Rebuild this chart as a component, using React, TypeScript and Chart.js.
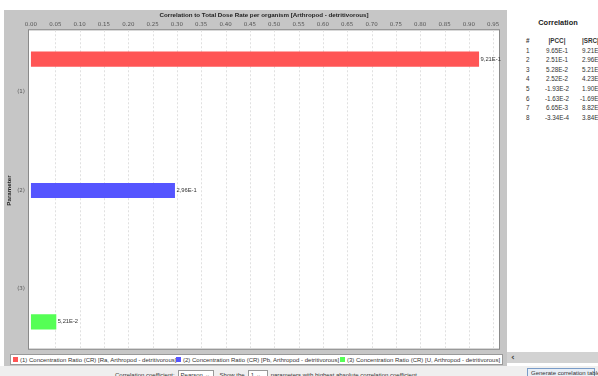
import React, { useEffect, useRef } from "react";
import { Chart, registerables } from "chart.js";

Chart.register(...registerables);

const categories = ["(1)", "(2)", "(3)"];
const seriesLabels = [
  "(1) Concentration Ratio (CR) [Ra, Arthropod - detritivorous]",
  "(2) Concentration Ratio (CR) [Pb, Arthropod - detritivorous]",
  "(3) Concentration Ratio (CR) [U, Arthropod - detritivorous]",
];
const seriesValues = [0.921, 0.296, 0.0521];
const valueLabels = ["9,21E-1", "2,96E-1", "5,21E-2"];
const seriesColors = ["#ff5555", "#5555ff", "#55ff55"];
const xTicks = [0, 0.05, 0.1, 0.15, 0.2, 0.25, 0.3, 0.35, 0.4, 0.45, 0.5, 0.55, 0.6, 0.65, 0.7, 0.75, 0.8, 0.85, 0.9, 0.95];
const chartTitle = "Correlation to Total Dose Rate per organism [Arthropod - detritivorous]";
const yTitle = "Parameter";

const tableRanks = ["1", "2", "3", "4", "5", "6", "7", "8"];
const pccValues = ["9.65E-1", "2.51E-1", "5.28E-2", "2.52E-2", "-1.93E-2", "-1.63E-2", "6.65E-3", "-3.34E-4"];
const srcValues = ["9.21E-1", "2.96E-1", "5.21E-2", "4.23E-2", "1.90E-2", "-1.69E-2", "8.82E-3", "3.84E-4"];

const plotBoxPlugin = {
  id: "plotBox",
  beforeDraw(chart: any) {
    const { ctx, chartArea } = chart;
    const top = chartArea.top - 12.5;
    const bottom = chartArea.bottom + 10.5;
    ctx.save();
    ctx.fillStyle = "#ffffff";
    ctx.fillRect(chartArea.left, top, chartArea.right - chartArea.left, bottom - top);
    ctx.strokeStyle = "#8a8a8a";
    ctx.lineWidth = 1;
    ctx.strokeRect(chartArea.left - 0.5, top - 0.5, chartArea.right - chartArea.left + 1, bottom - top + 1);
    const xs = chart.scales.x;
    ctx.strokeStyle = "#e0e0e0";
    ctx.setLineDash([2, 2]);
    xTicks.forEach((v) => {
      if (v === 0) return;
      const px = Math.round(xs.getPixelForValue(v)) + 0.5;
      ctx.beginPath();
      ctx.moveTo(px, top);
      ctx.lineTo(px, bottom);
      ctx.stroke();
    });
    ctx.restore();
  },
  afterDatasetsDraw(chart: any) {
    const { ctx } = chart;
    ctx.save();
    ctx.font = "5.8px 'Liberation Sans'";
    ctx.fillStyle = "#333";
    ctx.textBaseline = "middle";
    ctx.textAlign = "left";
    chart.data.datasets.forEach((ds: any, i: number) => {
      const meta = chart.getDatasetMeta(i);
      meta.data.forEach((el: any, j: number) => {
        if (ds.data[j] == null) return;
        ctx.fillText(valueLabels[i], el.x + 1.5, el.y);
      });
    });
    ctx.restore();
  },
};

export default function App() {
  const ref = useRef<HTMLCanvasElement>(null);
  useEffect(() => {
    document.body.style.margin = "0";
    const chart = new Chart(ref.current as HTMLCanvasElement, {
      type: "bar",
      data: {
        labels: categories,
        datasets: seriesLabels.map((label, i) => ({
          label,
          data: categories.map((_, j) => (j === i ? seriesValues[i] : null)),
          backgroundColor: seriesColors[i],
          borderWidth: 0,
          categoryPercentage: 1.0,
          barPercentage: 0.46,
        })),
      },
      options: {
        indexAxis: "y",
        responsive: false,
        animation: false,
        events: [],
        layout: { padding: { left: 0, top: 0, right: 8, bottom: 13.75 } },
        plugins: { legend: { display: false }, tooltip: { enabled: false } },
        scales: {
          x: {
            type: "linear",
            position: "top",
            min: -0.004,
            max: 0.962,
            afterBuildTicks: (s: any) => {
              s.ticks = xTicks.map((v) => ({ value: v }));
            },
            afterFit: (s: any) => {
              s.height = 32.75;
              s.paddingLeft = 0;
              s.paddingRight = 0;
            },
            grid: { display: false, drawTicks: false },
            border: { display: false },
            ticks: {
              callback: (v: any) => Number(v).toFixed(2),
              font: { family: "'DejaVu Sans'", size: 5.5 },
              color: "#555",
              padding: 15,
              maxRotation: 0,
              autoSkip: false,
            },
            title: {
              display: true,
              text: chartTitle,
              font: { family: "'Liberation Sans'", size: 6.2, weight: "bold" },
              color: "#222",
              padding: { top: 2, bottom: 0 },
            },
          },
          y: {
            type: "category",
            offset: true,
            afterFit: (s: any) => {
              s.width = 25;
            },
            grid: { display: false, drawTicks: false },
            border: { display: false },
            ticks: {
              font: { family: "'DejaVu Sans'", size: 5.5 },
              color: "#555",
              padding: 4,
            },
            title: {
              display: true,
              text: yTitle,
              font: { family: "'Liberation Sans'", size: 6.2, weight: "bold" },
              color: "#222",
              padding: { top: 2, bottom: 0 },
            },
          },
        },
      },
      plugins: [plotBoxPlugin],
    } as any);
    return () => chart.destroy();
  }, []);

  const small = { fontFamily: "'Liberation Sans', Arial, sans-serif", fontSize: "6px", color: "#333", whiteSpace: "nowrap" as const };
  const legendLefts = [13, 176, 340];

  return (
    <div style={{ position: "fixed", left: 0, top: 0, width: 598, height: 376, background: "#fff", overflow: "hidden" }}>
      <div style={{ position: "absolute", left: 4, top: 10, width: 503, height: 356, background: "#c6c6c6" }} />
      <div style={{ position: "absolute", left: 4, top: 10, width: 503, height: 342 }}>
        <canvas ref={ref} width={503} height={342} style={{ display: "block" }} />
      </div>
      <div style={{ position: "absolute", left: 10, top: 354, width: 493, height: 11, background: "#fff", border: "1px solid #999", boxSizing: "border-box" }} />
      {seriesLabels.map((label, i) => (
        <div key={label} style={{ position: "absolute", left: legendLefts[i], top: 355, height: 9, display: "flex", alignItems: "center", ...small }}>
          <span style={{ display: "inline-block", width: 5, height: 5, background: seriesColors[i], marginRight: 2 }} />
          <span>{label}</span>
        </div>
      ))}
      <div style={{ position: "absolute", left: 507, top: 352, width: 91, height: 11, background: "#d2d2d2", fontFamily: "'DejaVu Sans'", fontSize: "9px", fontWeight: "bold", color: "#444", lineHeight: "11px", paddingLeft: 4, boxSizing: "border-box" }}>‹</div>
      <div style={{ position: "absolute", left: 0, top: 366, width: 598, height: 10, background: "#efefef" }} />
      <div style={{ position: "absolute", left: 115, top: 370, ...small, display: "flex", alignItems: "center" }}>
        <span>Correlation coefficient:</span>
        <span style={{ border: "1px solid #999", background: "#fff", padding: "0 2px", marginLeft: 3, width: 30 }}>Pearson ⌄</span>
        <span style={{ marginLeft: 6 }}>Show the</span>
        <span style={{ border: "1px solid #999", background: "#fff", padding: "0 2px", marginLeft: 3, width: 14 }}>1 ⌄</span>
        <span style={{ marginLeft: 3 }}>parameters with highest absolute correlation coefficient</span>
      </div>
      <div style={{ position: "absolute", left: 527, top: 368, width: 68, height: 12, border: "1px solid #7a9cc8", background: "#e8eef6", ...small, paddingLeft: 3, boxSizing: "border-box", lineHeight: "9px" }}>Generate correlation table</div>
      <div style={{ position: "absolute", left: 507, top: 0, width: 91, height: 352, background: "#fff", fontFamily: "'Liberation Sans', Arial, sans-serif", color: "#333", overflow: "hidden" }}>
        <div style={{ position: "absolute", left: 0, width: 102, top: 18, textAlign: "center", fontWeight: "bold", fontSize: "7.4px", color: "#222" }}>Correlation</div>
        {["#", "|PCC|", "|SRC|"].map((h, c) => (
          <div key={h} style={{ position: "absolute", top: 37, left: c === 0 ? 19 : c === 1 ? 36 : 75, width: c === 1 ? 28 : 40, textAlign: c === 1 ? "center" : "left", fontWeight: "bold", fontSize: "6.3px", whiteSpace: "nowrap" }}>{h}</div>
        ))}
        {tableRanks.map((r, i) => (
          <React.Fragment key={r}>
            <div style={{ position: "absolute", top: 46.5 + i * 9.6, left: 19, fontSize: "6.3px" }}>{r}</div>
            <div style={{ position: "absolute", top: 46.5 + i * 9.6, left: 36, width: 28, textAlign: "center", fontSize: "6.3px", whiteSpace: "nowrap" }}>{pccValues[i]}</div>
            <div style={{ position: "absolute", top: 46.5 + i * 9.6, left: srcValues[i].startsWith("-") ? 73 : 75, fontSize: "6.3px", whiteSpace: "nowrap" }}>{srcValues[i]}</div>
          </React.Fragment>
        ))}
      </div>
    </div>
  );
}
